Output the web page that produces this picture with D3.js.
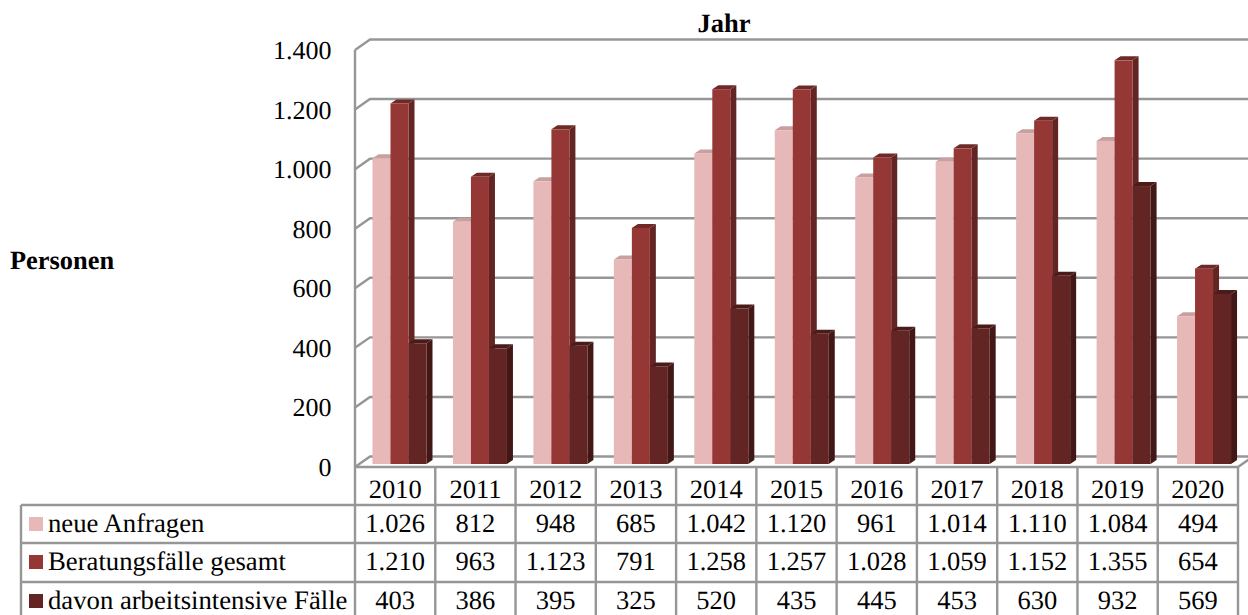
<!DOCTYPE html>
<html>
<head>
<meta charset="UTF-8">
<script src="https://d3js.org/d3.v7.min.js"></script>
<style>
  html, body { margin: 0; padding: 0; background: #fff; overflow: hidden; }
  text { font-family: "Liberation Serif", serif; fill: #000; text-rendering: geometricPrecision; }
</style>
</head>
<body>
<svg id="canvas"></svg>
<script>
const years = ["2010","2011","2012","2013","2014","2015","2016","2017","2018","2019","2020"];
const seriesNames = ["neue Anfragen","Beratungsfälle gesamt","davon arbeitsintensive Fälle"];
const neueAnfragen = [1026,812,948,685,1042,1120,961,1014,1110,1084,494];
const beratungsfaelle = [1210,963,1123,791,1258,1257,1028,1059,1152,1355,654];
const arbeitsintensiv = [403,386,395,325,520,435,445,453,630,932,569];
const yTicks = [0,200,400,600,800,1000,1200,1400];

const seriesValues = [neueAnfragen, beratungsfaelle, arbeitsintensiv];
const front = ["#e6b8b7","#953735","#632523"];
const side = ["#d4a5a5","#632523","#421816"];
const top_ = ["#c9a0a0","#6f2a28","#4a1b19"];
const grid = "#969696";

const width = 1248, height = 615;
const svg = d3.select("#canvas").attr("width", width).attr("height", height).style("display","block");

const fmt = d3.formatLocale({decimal: ",", thousands: ".", grouping: [3], currency: ["","€"]}).format(",d");

// table columns and bar groups do not line up exactly in the original, so two band scales
const x = d3.scaleBand().domain(years).range([355, 1238]);
const xBars = d3.scaleBand().domain(years).range([355, 1240]);
const inner = d3.scaleBand().domain(d3.range(3)).range([17.5, 71.5]);
const yBar = d3.scaleLinear().domain([0, 1400]).range([463, 47]);
const yFront = d3.scaleLinear().domain([0, 1400]).range([467, 50]);
const yBack = d3.scaleLinear().domain([0, 1400]).range([456.5, 39.5]);
const floorY = 464, depthX = 15, barDepthX = 6, barDepthY = 4;

const gridG = svg.append("g").attr("fill","none").attr("stroke",grid).attr("stroke-width",2.4);
yTicks.forEach(t => {
  gridG.append("path").attr("d", d3.line()([
    [x.range()[0], yFront(t)],
    [x.range()[0] + depthX, yBack(t)],
    [width + 2, yBack(t)]
  ]));
});
gridG.append("line").attr("x1",355).attr("x2",355).attr("y1",yFront(1400)).attr("y2",yFront(0));
// floor front and right edge
gridG.append("line").attr("x1",x.range()[0]).attr("x2",x.range()[1]).attr("y1",yFront(0)).attr("y2",yFront(0));
gridG.append("line").attr("x1",x.range()[1]).attr("x2",x.range()[1] + depthX).attr("y1",yFront(0)).attr("y2",yBack(0));

// bars, later series sit on top of the side of earlier ones
const barG = svg.append("g");
years.forEach((yr, i) => {
  seriesValues.forEach((vals, s) => {
    const bx = xBars(yr) + inner(s), bw = inner.bandwidth(), by = yBar(vals[i]);
    const g = barG.append("g");
    g.append("path").attr("fill", side[s]).attr("d", d3.line()([
      [bx + bw, by], [bx + bw + barDepthX, by - barDepthY], [bx + bw + barDepthX, floorY - barDepthY], [bx + bw, floorY]
    ]));
    g.append("path").attr("fill", top_[s]).attr("d", d3.line()([
      [bx, by], [bx + barDepthX, by - barDepthY], [bx + bw + barDepthX, by - barDepthY], [bx + bw, by]
    ]));
    g.append("rect").attr("x", bx).attr("y", by).attr("width", bw).attr("height", floorY - by).attr("fill", front[s]);
  });
});

// y labels
svg.append("g").selectAll("text").data(yTicks).join("text")
  .attr("x", 331.5).attr("y", d => yFront(d) + 9).attr("text-anchor","end")
  .style("font-size","26px").text(d => fmt(d));

svg.append("text").attr("x", 724).attr("y", 32).attr("text-anchor","middle")
  .style("font-size","26.5px").style("font-weight","bold").text("Jahr");
svg.append("text").attr("x", 10).attr("y", 269)
  .style("font-size","26.4px").style("font-weight","bold").text("Personen");

// data table
const rowY = [467, 505, 543, 582, 622];
const tableLeft = 21;
const tbl = svg.append("g").attr("stroke",grid).attr("stroke-width",2.4);
rowY.slice(1).forEach(r => tbl.append("line").attr("x1",tableLeft).attr("x2",x.range()[1]).attr("y1",r).attr("y2",r));
tbl.append("line").attr("x1",tableLeft).attr("x2",tableLeft).attr("y1",rowY[1]).attr("y2",rowY[4]);
x.domain().concat([null]).forEach(yr => {
  const px = yr === null ? x.range()[1] : x(yr);
  tbl.append("line").attr("x1",px).attr("x2",px).attr("y1",rowY[0]).attr("y2",rowY[4]);
});

const cellFont = "26.5px";
svg.append("g").selectAll("text").data(years).join("text")
  .attr("x", d => x(d) + x.bandwidth()/2).attr("y", rowY[0] + 31).attr("text-anchor","middle")
  .style("font-size",cellFont).text(d => d);

seriesValues.forEach((vals, s) => {
  const base = rowY[s+1] + 27;
  svg.append("rect").attr("x",29).attr("y",rowY[s+1] + 12).attr("width",14).attr("height",14).attr("fill",front[s]);
  svg.append("text").attr("x",48).attr("y",base).style("font-size","26.7px").text(seriesNames[s]);
  svg.append("g").selectAll("text").data(vals).join("text")
    .attr("x",(d,i) => x(years[i]) + x.bandwidth()/2).attr("y",base).attr("text-anchor","middle")
    .style("font-size",cellFont).text(d => fmt(d));
});
</script>
</body>
</html>
